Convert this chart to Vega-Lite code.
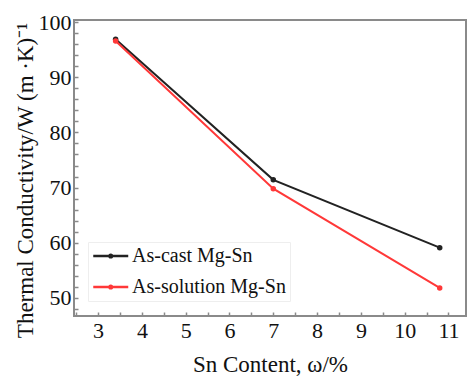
{
  "$schema": "https://vega.github.io/schema/vega-lite/v6.json",
  "width": 392,
  "height": 296,
  "autosize": {"type": "none"},
  "padding": {"left": 74, "top": 20, "right": 4, "bottom": 64},
  "background": "white",
  "config": {
    "font": "Times New Roman",
    "view": {"stroke": "#8a8a8a", "strokeWidth": 2},
    "axis": {
      "labelFont": "Times New Roman",
      "titleFont": "Times New Roman",
      "labelFontSize": 22,
      "titleFontSize": 23,
      "titleFontWeight": "normal",
      "labelColor": "#111111",
      "titleColor": "#111111",
      "grid": false,
      "domain": false,
      "tickColor": "#8a8a8a",
      "tickSize": -4,
      "tickWidth": 1.5,
      "labelOverlap": false
    },
    "legend": {
      "labelFont": "Times New Roman",
      "labelFontSize": 20,
      "labelColor": "#111111"
    }
  },
  "data": {
    "values": [
      {"sn": 3.4, "k": 96.9, "state": "As-cast Mg-Sn"},
      {"sn": 7.0, "k": 71.4, "state": "As-cast Mg-Sn"},
      {"sn": 10.8, "k": 59.1, "state": "As-cast Mg-Sn"},
      {"sn": 3.4, "k": 96.6, "state": "As-solution Mg-Sn"},
      {"sn": 7.0, "k": 69.8, "state": "As-solution Mg-Sn"},
      {"sn": 10.8, "k": 51.8, "state": "As-solution Mg-Sn"}
    ]
  },
  "mark": {"type": "line", "strokeWidth": 2, "point": {"filled": true, "size": 30, "opacity": 1}},
  "encoding": {
    "x": {
      "field": "sn",
      "type": "quantitative",
      "scale": {"domain": [2.45, 11.4], "nice": false, "zero": false},
      "axis": {
        "title": "Sn Content, ω/%",
        "values": [2.5, 3, 3.5, 4, 4.5, 5, 5.5, 6, 6.5, 7, 7.5, 8, 8.5, 9, 9.5, 10, 10.5, 11],
        "format": ".1f",
        "labelExpr": "datum.value % 1 == 0 ? format(datum.value, 'd') : ''",
        "labelPadding": 8,
        "titlePadding": 12
      }
    },
    "y": {
      "field": "k",
      "type": "quantitative",
      "scale": {"domain": [46.7, 100.4], "nice": false, "zero": false},
      "axis": {
        "title": "Thermal Conductivity/W (m ·K)⁻¹",
        "values": [48, 50, 52, 54, 56, 58, 60, 62, 64, 66, 68, 70, 72, 74, 76, 78, 80, 82, 84, 86, 88, 90, 92, 94, 96, 98, 100],
        "format": "d",
        "labelExpr": "datum.value % 10 == 0 ? datum.label : ''",
        "labelPadding": 7,
        "titlePadding": 1,
        "titleY": 160
      }
    },
    "color": {
      "field": "state",
      "type": "nominal",
      "scale": {"domain": ["As-cast Mg-Sn", "As-solution Mg-Sn"], "range": ["#222222", "#ff3838"]},
      "legend": {
        "title": null,
        "orient": "none",
        "legendX": 14,
        "legendY": 222,
        "symbolType": "M-1,0H3M0.85,0A0.15,0.15 0 1,0 1.15,0A0.15,0.15 0 1,0 0.85,0",
        "symbolSize": 306,
        "symbolStrokeWidth": 2.5,
        "rowPadding": 11,
        "padding": 4,
        "fillColor": "white",
        "strokeColor": "#eeeeee",
        "labelOffset": 20
      }
    }
  }
}
